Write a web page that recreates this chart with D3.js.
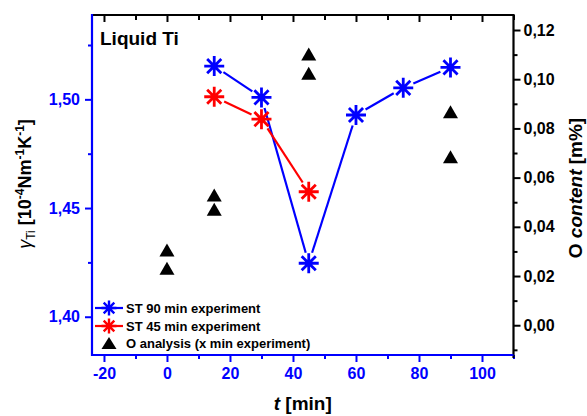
<!DOCTYPE html>
<html>
<head>
<meta charset="utf-8">
<script src="https://cdn.jsdelivr.net/npm/d3@7"></script>
<style>
  html, body { margin: 0; padding: 0; background: #fff; }
  svg { display: block; font-family: Arial, "Liberation Sans", sans-serif; }
</style>
</head>
<body>
<svg id="chart" width="587" height="416"></svg>
<script>
// Surface tension of liquid Ti and oxygen content over time
const timeST90 = [15, 30, 45, 60, 75, 90];
const valST90 = [1.5153, 1.5009, 1.4246, 1.4928, 1.5053, 1.5147];
const timeST45 = [15, 30, 45];
const valST45 = [1.5012, 1.4909, 1.4575];
const timeO = [0, 0, 15, 15, 45, 45, 90, 90];
const valO = [0.0306, 0.0232, 0.0529, 0.0471, 0.1102, 0.1024, 0.0868, 0.0685];

const xMajor = [-20, 0, 20, 40, 60, 80, 100];
const xMinor = [-10, 10, 30, 50, 70, 90, 110];
const yLeftMajor = [1.40, 1.45, 1.50];
const yLeftMinor = [1.425, 1.475, 1.525];
const yRightMajor = [0.00, 0.02, 0.04, 0.06, 0.08, 0.10, 0.12];
const yRightMinor = [-0.01, 0.01, 0.03, 0.05, 0.07, 0.09, 0.11];
const legendLabels = ["ST 90 min experiment", "ST 45 min experiment", "O analysis (x min experiment)"];

const BLUE = "#0000ff", RED = "#ff0000", BLACK = "#000000";
const L = 92, R = 513.5, T = 15, B = 355;
const TICK_FONT = 16;

const svg = d3.select("#chart");
const loc = d3.formatLocale({decimal: ",", thousands: ".", grouping: [3], currency: ["", ""], minus: "-"});
const fmt2 = loc.format(".2f");
const fmtInt = loc.format("d");

const x = d3.scaleLinear().domain([-23.8, 110]).range([L, R]);
const yL = d3.scaleLinear().domain([1.3824, 1.5388]).range([B, T]);
const yR = d3.scaleLinear().domain([-0.0121, 0.1261]).range([B, T]);

function styleAxis(g, color) {
  g.select(".domain").remove();
  g.selectAll(".tick line").attr("stroke", color).attr("stroke-width", 2);
  g.selectAll(".tick text").attr("fill", color).attr("font-size", TICK_FONT).attr("font-weight", "bold");
}

// Bottom axis (blue)
svg.append("g").attr("transform", `translate(0,${B})`)
  .call(d3.axisBottom(x).tickValues(xMinor).tickSize(4).tickFormat(""))
  .call(g => styleAxis(g, BLUE));
svg.append("g").attr("transform", `translate(0,${B})`)
  .call(d3.axisBottom(x).tickValues(xMajor).tickSize(7).tickPadding(6).tickFormat(fmtInt))
  .call(g => styleAxis(g, BLUE));

// Top axis (black, inward ticks)
svg.append("g").attr("transform", `translate(0,${T})`)
  .call(d3.axisTop(x).tickValues(xMinor).tickSize(-5).tickFormat(""))
  .call(g => styleAxis(g, BLACK));
svg.append("g").attr("transform", `translate(0,${T})`)
  .call(d3.axisTop(x).tickValues(xMajor).tickSize(-7).tickFormat(""))
  .call(g => styleAxis(g, BLACK));

// Left axis (blue)
svg.append("g").attr("transform", `translate(${L},0)`)
  .call(d3.axisLeft(yL).tickValues(yLeftMinor).tickSize(4).tickFormat(""))
  .call(g => styleAxis(g, BLUE));
svg.append("g").attr("transform", `translate(${L},0)`)
  .call(d3.axisLeft(yL).tickValues(yLeftMajor).tickSize(7).tickPadding(5).tickFormat(fmt2))
  .call(g => styleAxis(g, BLUE));

// Right axis (black)
svg.append("g").attr("transform", `translate(${R},0)`)
  .call(d3.axisRight(yR).tickValues(yRightMinor).tickSize(4).tickFormat(""))
  .call(g => styleAxis(g, BLACK));
svg.append("g").attr("transform", `translate(${R},0)`)
  .call(d3.axisRight(yR).tickValues(yRightMajor).tickSize(7).tickPadding(3).tickFormat(fmt2))
  .call(g => styleAxis(g, BLACK));

// Frame lines
svg.append("line").attr("x1", L).attr("x2", R).attr("y1", T).attr("y2", T).attr("stroke", BLACK).attr("stroke-width", 2.2);
svg.append("line").attr("x1", R).attr("x2", R).attr("y1", T - 1).attr("y2", B + 3).attr("stroke", BLACK).attr("stroke-width", 2.2);
svg.append("line").attr("x1", L).attr("x2", R).attr("y1", B).attr("y2", B).attr("stroke", BLUE).attr("stroke-width", 2.2);
svg.append("line").attr("x1", L).attr("x2", L).attr("y1", T - 1).attr("y2", B + 1).attr("stroke", BLUE).attr("stroke-width", 2.2);

// Asterisk marker path (8 arms)
function asterisk(r) {
  let d = "";
  for (let k = 0; k < 4; k++) {
    const a = k * Math.PI / 4;
    const dx = r * Math.cos(a), dy = r * Math.sin(a);
    d += `M${-dx},${-dy}L${dx},${dy}`;
  }
  return d;
}
function triangle(w, h) {
  return `M0,${-h / 2}L${w / 2},${h / 2}L${-w / 2},${h / 2}Z`;
}

// Connecting lines with a gap around each marker
function gappedLine(xs, ys, yScale, color, gap) {
  const g = svg.append("g");
  for (let i = 0; i < xs.length - 1; i++) {
    const x1 = x(xs[i]), y1 = yScale(ys[i]);
    const x2 = x(xs[i + 1]), y2 = yScale(ys[i + 1]);
    const len = Math.hypot(x2 - x1, y2 - y1);
    if (len <= 2 * gap) continue;
    const ux = (x2 - x1) / len, uy = (y2 - y1) / len;
    g.append("line")
      .attr("x1", x1 + ux * gap).attr("y1", y1 + uy * gap)
      .attr("x2", x2 - ux * gap).attr("y2", y2 - uy * gap)
      .attr("stroke", color).attr("stroke-width", 2.2);
  }
}

gappedLine(timeST90, valST90, yL, BLUE, 11);
gappedLine(timeST45, valST45, yL, RED, 11);

// O content triangles
svg.append("g").selectAll("path").data(timeO).join("path")
  .attr("d", triangle(15, 13))
  .attr("transform", (d, i) => `translate(${x(d)},${yR(valO[i])})`)
  .attr("fill", BLACK);

// Red asterisks
svg.append("g").selectAll("path").data(timeST45).join("path")
  .attr("d", asterisk(10))
  .attr("transform", (d, i) => `translate(${x(d)},${yL(valST45[i])})`)
  .attr("stroke", RED).attr("stroke-width", 2.8).attr("fill", "none");

// Blue asterisks
svg.append("g").selectAll("path").data(timeST90).join("path")
  .attr("d", asterisk(10))
  .attr("transform", (d, i) => `translate(${x(d)},${yL(valST90[i])})`)
  .attr("stroke", BLUE).attr("stroke-width", 2.8).attr("fill", "none");

// Panel label
svg.append("text").attr("x", 100).attr("y", 45)
  .attr("font-size", 19).attr("font-weight", "bold").attr("fill", BLACK)
  .text("Liquid Ti");

// Legend
const leg = svg.append("g");
const legY = [308, 326, 343];
[BLUE, RED].forEach((c, i) => {
  leg.append("line").attr("x1", 95).attr("x2", 123).attr("y1", legY[i]).attr("y2", legY[i])
    .attr("stroke", c).attr("stroke-width", 2.2);
  leg.append("path").attr("d", asterisk(7.5))
    .attr("transform", `translate(109,${legY[i]})`)
    .attr("stroke", c).attr("stroke-width", 2.4).attr("fill", "none");
});
leg.append("path").attr("d", triangle(15, 12))
  .attr("transform", `translate(109,${legY[2]})`).attr("fill", BLACK);
legendLabels.forEach((t, i) => {
  leg.append("text").attr("x", 126).attr("y", legY[i] + 5)
    .attr("font-size", 13).attr("font-weight", "bold").attr("fill", BLACK)
    .text(t);
});

// Axis titles
const xt = svg.append("text").attr("x", (L + R) / 2).attr("y", 410)
  .attr("text-anchor", "middle").attr("font-size", 19).attr("font-weight", "bold").attr("fill", BLACK);
xt.append("tspan").attr("font-style", "italic").text("t");
xt.append("tspan").text(" [min]");

const ylt = svg.append("text")
  .attr("transform", "translate(31,184) rotate(-90)")
  .attr("text-anchor", "middle").attr("font-size", 18).attr("font-weight", "bold").attr("fill", BLACK);
ylt.append("tspan").attr("font-style", "italic").attr("font-weight", "normal").text("γ");
ylt.append("tspan").attr("font-size", 12).attr("font-weight", "normal").attr("dy", 4).text("Ti");
ylt.append("tspan").attr("dy", -4).text(" [10");
ylt.append("tspan").attr("font-size", 12).attr("dy", -7).text("-4");
ylt.append("tspan").attr("dy", 7).text("Nm");
ylt.append("tspan").attr("font-size", 12).attr("dy", -7).text("-1");
ylt.append("tspan").attr("dy", 7).text("K");
ylt.append("tspan").attr("font-size", 12).attr("dy", -7).text("-1");
ylt.append("tspan").attr("dy", 7).text("]");

const yrt = svg.append("text")
  .attr("transform", "translate(582,188) rotate(-90)")
  .attr("text-anchor", "middle").attr("font-size", 19).attr("font-weight", "bold").attr("fill", BLACK);
yrt.append("tspan").text("O ");
yrt.append("tspan").attr("font-style", "italic").text("content");
yrt.append("tspan").text(" [m%]");
</script>
</body>
</html>
